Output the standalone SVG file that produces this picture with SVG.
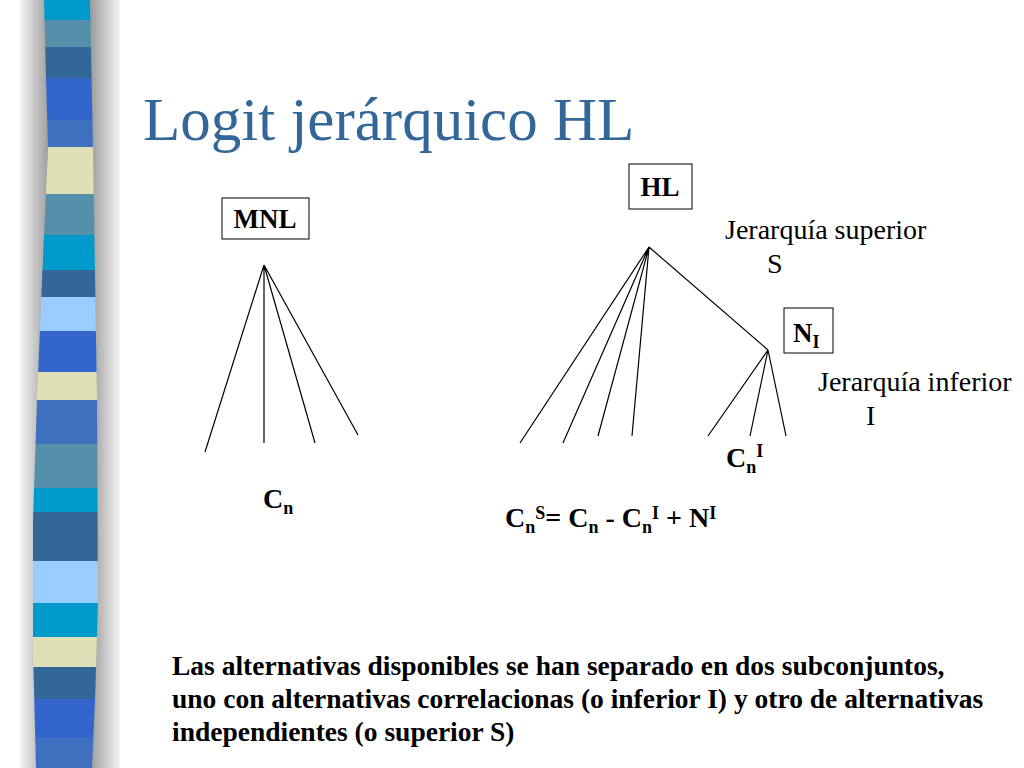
<svg xmlns="http://www.w3.org/2000/svg" width="1024" height="768" viewBox="0 0 1024 768">
<defs>
<linearGradient id="sh" x1="0" x2="1" y1="0" y2="0">
<stop offset="0" stop-color="#f4f4f4"/><stop offset="0.3" stop-color="#9a9a9a"/><stop offset="0.7" stop-color="#9a9a9a"/><stop offset="1" stop-color="#f4f4f4"/>
</linearGradient>
<clipPath id="cp"><path d="M44,0 L90,0 L93,150 L97,400 L98,600 L95,700 L92,768 L36,768 L33,650 L33,520 L37,400 L42,280 L48,150 Z"/></clipPath>
<style>
.t{font-family:"Liberation Serif",serif;fill:#000}
.b{font-weight:bold}
.l{stroke:#000;stroke-width:1.2;fill:none}
.box{fill:#fff;stroke:#000;stroke-width:1}
</style>
</defs>
<rect width="1024" height="768" fill="#fff"/>
<rect x="20" y="0" width="100" height="768" fill="url(#sh)"/>
<g clip-path="url(#cp)">
<rect x="30" y="0" width="72" height="20" fill="#0099cc"/>
<rect x="30" y="20" width="72" height="27" fill="#5590aa"/>
<rect x="30" y="47" width="72" height="31" fill="#336699"/>
<rect x="30" y="78" width="72" height="42" fill="#3366cc"/>
<rect x="30" y="120" width="72" height="27" fill="#3f6fbf"/>
<rect x="30" y="147" width="72" height="47" fill="#e0e0b8"/>
<rect x="30" y="194" width="72" height="41" fill="#5590aa"/>
<rect x="30" y="235" width="72" height="35" fill="#0099cc"/>
<rect x="30" y="270" width="72" height="27" fill="#336699"/>
<rect x="30" y="297" width="72" height="34" fill="#99ccff"/>
<rect x="30" y="331" width="72" height="41" fill="#3366cc"/>
<rect x="30" y="372" width="72" height="28" fill="#e0e0b8"/>
<rect x="30" y="400" width="72" height="44" fill="#3f6fbf"/>
<rect x="30" y="444" width="72" height="44" fill="#5590aa"/>
<rect x="30" y="488" width="72" height="24" fill="#0099cc"/>
<rect x="30" y="512" width="72" height="49" fill="#336699"/>
<rect x="30" y="561" width="72" height="42" fill="#99ccff"/>
<rect x="30" y="603" width="72" height="34" fill="#0099cc"/>
<rect x="30" y="637" width="72" height="30" fill="#e0e0b8"/>
<rect x="30" y="667" width="72" height="32" fill="#336699"/>
<rect x="30" y="699" width="72" height="39" fill="#3366cc"/>
<rect x="30" y="738" width="72" height="30" fill="#3f6fbf"/>
</g>
<text x="143" y="140" font-family="Liberation Serif, serif" font-size="61" fill="#336699">Logit jerárquico HL</text>
<g id="mnl"><rect class="box" x="222" y="198" width="87" height="41"/><text class="t b" x="265" y="228" font-size="27" text-anchor="middle">MNL</text></g>
<g id="hl"><rect class="box" x="629" y="164" width="63" height="45"/><text class="t b" x="660" y="196" font-size="27" text-anchor="middle">HL</text></g>
<g id="ni"><rect class="box" x="784" y="308" width="49" height="45"/><text class="t b" x="793" y="342" font-size="27">N<tspan font-size="18" dy="6">I</tspan></text></g>
<g id="connectors">
<path class="l" d="M264,265 L205,452 M264,265 L264,443 M264,265 L315,443 M264,265 L358,435"/>
<path class="l" d="M649,247 L520,443 M649,247 L563,443 M649,247 L598,436 M649,247 L632,436 M649,247 L768,350"/>
<path class="l" d="M768,350 L708,436 M768,350 L750,436 M768,350 L786,436"/>
</g>
<text class="t" x="725" y="239" font-size="28">Jerarquía superior</text>
<text class="t" x="767" y="273" font-size="28">S</text>
<text class="t" x="818" y="391" font-size="28">Jerarquía inferior</text>
<text class="t" x="866" y="425" font-size="28">I</text>
<text class="t b" x="726" y="467" font-size="28">C<tspan font-size="18" dy="6">n</tspan><tspan font-size="18" dy="-16">I</tspan></text>
<text class="t b" x="263" y="508" font-size="28">C<tspan font-size="18" dy="6">n</tspan></text>
<text class="t b" x="505" y="527" font-size="28">C<tspan font-size="18" dy="6">n</tspan><tspan font-size="18" dy="-14">S</tspan><tspan dy="8">= C</tspan><tspan font-size="18" dy="6">n</tspan><tspan dy="-6"> - C</tspan><tspan font-size="18" dy="6">n</tspan><tspan font-size="18" dy="-14">I</tspan><tspan dy="8"> + N</tspan><tspan font-size="18" dy="-8">I</tspan></text>
<g class="t b" font-size="27.5">
<text x="172" y="675">Las alternativas disponibles se han separado en dos subconjuntos,</text>
<text x="172" y="708">uno con alternativas correlacionas (o inferior I) y otro de alternativas</text>
<text x="172" y="741">independientes (o superior S)</text>
</g>
</svg>
